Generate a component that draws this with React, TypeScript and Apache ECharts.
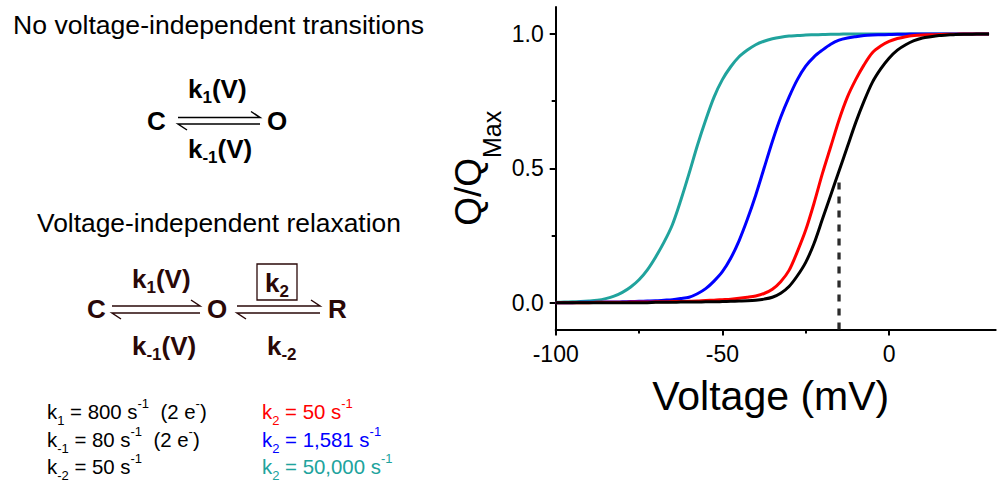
import React, { useEffect, useRef } from "react";
import * as echarts from "echarts";

const F = "'Liberation Sans', Arial, Helvetica, sans-serif";

// Voltage (mV) sample points
const voltage = [
  -100, -97.5, -95, -92.5, -90, -87.5, -85, -82.5, -80, -77.5, -75, -72.5, -70, -67.5, -65, -62.5, -60, -57.5,
  -55, -52.5, -50, -47.5, -45, -42.5, -40, -37.5, -35, -32.5, -30, -27.5, -25, -22.5, -20, -17.5, -15, -12.5,
  -10, -7.5, -5, -2.5, 0, 2.5, 5, 7.5, 10, 12.5, 15, 17.5, 20, 22.5, 25, 27.5, 30,
];
// Q/Qmax, k2 = 50,000 s-1 (teal)
const qTeal = [
  0.001, 0.002, 0.003, 0.004, 0.006, 0.009, 0.015, 0.024, 0.038, 0.058, 0.085, 0.122, 0.17, 0.225, 0.29, 0.38, 0.48, 0.585,
  0.68, 0.765, 0.83, 0.878, 0.915, 0.94, 0.96, 0.973, 0.982, 0.988, 0.992, 0.994, 0.996, 0.997, 0.998, 0.999, 0.999, 1,
  1, 1, 1, 1, 1, 1, 1, 1, 1, 1, 1, 1, 1, 1, 1, 1, 1,
];
// k2 = 1,581 s-1 (blue)
const qBlue = [
  0, 0, 0, 0.001, 0.001, 0.001, 0.002, 0.002, 0.003, 0.004, 0.005, 0.006, 0.007, 0.009, 0.011, 0.015, 0.02, 0.033,
  0.052, 0.08, 0.115, 0.165, 0.23, 0.31, 0.4, 0.5, 0.6, 0.69, 0.765, 0.83, 0.88, 0.915, 0.94, 0.962, 0.977, 0.985,
  0.99, 0.994, 0.996, 0.997, 0.998, 0.999, 0.999, 1, 1, 1, 1, 1, 1, 1, 1, 1, 1,
];
// k2 = 50 s-1 (red)
const qRed = [
  0, 0, 0, 0, 0, 0.001, 0.001, 0.001, 0.001, 0.002, 0.002, 0.002, 0.003, 0.003, 0.004, 0.004, 0.005, 0.006,
  0.008, 0.009, 0.011, 0.013, 0.016, 0.02, 0.025, 0.034, 0.05, 0.078, 0.12, 0.19, 0.27, 0.37, 0.48, 0.58, 0.68, 0.765,
  0.83, 0.885, 0.93, 0.955, 0.972, 0.983, 0.99, 0.994, 0.996, 0.997, 0.998, 0.999, 0.999, 1, 1, 1, 1,
];
// no voltage-independent transitions (black)
const qBlack = [
  0, 0, 0, 0, 0, 0, 0, 0, 0, 0, 0, 0, 0.001, 0.001, 0.001, 0.002, 0.002, 0.002,
  0.003, 0.003, 0.004, 0.005, 0.006, 0.007, 0.009, 0.013, 0.02, 0.035, 0.06, 0.1, 0.15, 0.22, 0.31, 0.4, 0.49, 0.58,
  0.67, 0.75, 0.82, 0.87, 0.91, 0.94, 0.96, 0.975, 0.985, 0.99, 0.994, 0.996, 0.998, 0.999, 0.999, 1, 1,
];

const dashedV = [-15, -15];
const dashedQ = [-0.1, 0.46];

const xTicks = [-100, -50, 0];
const xMinorTicks = [-75, -25];
const yTicks = [0, 0.5, 1];
const yMinorTicks = [0.25, 0.75];

const TEAL = "#20a39d";
const BLUE = "#0000ff";
const RED = "#ff0000";
const BLACK = "#000000";
const BROWN = "#2a0808";

function rt(
  x: number,
  baseline: number,
  text: string,
  fs: number,
  L: number,
  opts: { bold?: boolean; color?: string; sub?: number } = {}
) {
  const s = opts.sub ?? Math.round(fs * 0.65);
  const color = opts.color ?? "#000";
  const weight = opts.bold ? "bold" : "normal";
  const top = baseline - L / 2 - 0.35 * fs;
  return {
    type: "text",
    x,
    y: top,
    silent: true,
    style: {
      text,
      align: "left",
      verticalAlign: "top",
      rich: {
        m: { fontSize: fs, lineHeight: L, fontFamily: F, fontWeight: weight, fill: color, color, verticalAlign: "middle" },
        sb: { fontSize: s, lineHeight: s + 1, fontFamily: F, fontWeight: weight, fill: color, color, verticalAlign: "bottom" },
        sp: { fontSize: s, lineHeight: s + 1, fontFamily: F, fontWeight: weight, fill: color, color, verticalAlign: "top" },
      },
    },
  };
}

function harpoon(x1: number, x2: number, yTop: number, yBot: number, color: string) {
  return [
    {
      type: "polyline",
      silent: true,
      shape: { points: [[x1, yTop], [x2, yTop], [x2 - 9, yTop - 6]] },
      style: { stroke: color, lineWidth: 1.5, fill: null },
    },
    {
      type: "polyline",
      silent: true,
      shape: { points: [[x1 + 9, yBot + 6], [x1, yBot], [x2, yBot]] },
      style: { stroke: color, lineWidth: 1.5, fill: null },
    },
  ];
}

export default function App() {
  const ref = useRef<HTMLDivElement>(null);
  useEffect(() => {
    if (!ref.current) return;
    const chart = echarts.init(ref.current, null, { renderer: "svg" });
    const mk = (ys: number[]) => voltage.map((v, i) => [v, ys[i]]);
    const curve = (name: string, ys: number[], color: string) => ({
      name,
      type: "line",
      data: mk(ys),
      showSymbol: false,
      symbol: "none",
      smooth: 0.3,
      lineStyle: { color, width: 3 },
      itemStyle: { color },
      xAxisIndex: 0,
      yAxisIndex: 0,
    });

    const graphics: any[] = [
      rt(13, 34, "{m|No voltage-independent transitions}", 26.6, 30),
      rt(188, 98, "{m|k}{sb|1}{m|(V)}", 26, 34, { bold: true, sub: 17 }),
      rt(147, 130, "{m|C}", 26, 34, { bold: true }),
      rt(267, 130, "{m|O}", 26, 34, { bold: true }),
      rt(188, 158, "{m|k}{sb|-1}{m|(V)}", 26, 34, { bold: true, sub: 17 }),
      ...harpoon(178, 260, 117.5, 124, "#000"),

      rt(37, 232, "{m|Voltage-independent relaxation}", 26.4, 30),
      rt(132, 288, "{m|k}{sb|1}{m|(V)}", 26, 34, { bold: true, sub: 17, color: BROWN }),
      {
        type: "rect",
        silent: true,
        shape: { x: 257, y: 264, width: 40, height: 36 },
        style: { stroke: BROWN, lineWidth: 1.3, fill: null },
      },
      rt(265, 292, "{m|k}{sb|2}", 26, 34, { bold: true, sub: 17, color: BROWN }),
      rt(87, 318, "{m|C}", 26, 34, { bold: true, color: BROWN }),
      rt(207, 318, "{m|O}", 26, 34, { bold: true, color: BROWN }),
      rt(328, 318, "{m|R}", 26, 34, { bold: true, color: BROWN }),
      rt(132, 355, "{m|k}{sb|-1}{m|(V)}", 26, 34, { bold: true, sub: 17, color: BROWN }),
      rt(267, 355, "{m|k}{sb|-2}", 26, 34, { bold: true, sub: 17, color: BROWN }),
      ...harpoon(112, 200, 306, 313, BROWN),
      ...harpoon(237, 320, 306, 313, BROWN),

      rt(47, 419, "{m|k}{sb|1}{m| = 800 s}{sp|-1}{m|  (2 e}{sp|-}{m|)}", 20.4, 30),
      rt(47, 447, "{m|k}{sb|-1}{m| = 80 s}{sp|-1}{m|  (2 e}{sp|-}{m|)}", 20.4, 30),
      rt(47, 474, "{m|k}{sb|-2}{m| = 50 s}{sp|-1}", 20.4, 30),
      rt(262, 419, "{m|k}{sb|2}{m| = 50 s}{sp|-1}", 20.4, 30, { color: RED }),
      rt(262, 447, "{m|k}{sb|2}{m| = 1,581 s}{sp|-1}", 20.4, 30, { color: BLUE }),
      rt(262, 474, "{m|k}{sb|2}{m| = 50,000 s}{sp|-1}", 20.4, 30, { color: TEAL }),
    ];

    const axisLineStyle = { color: "#000", width: 2 };
    chart.setOption({
      animation: false,
      grid: { left: 555.7, right: 3.3, top: 7.1, bottom: 155.5 },
      xAxis: [
        {
          type: "value",
          min: -100,
          max: 32,
          position: "bottom",
          axisLine: { show: true, onZero: false, lineStyle: axisLineStyle },
          axisTick: { show: true, customValues: xTicks, length: 6, lineStyle: axisLineStyle },
          axisLabel: {
            customValues: xTicks,
            fontSize: 23,
            lineHeight: 23,
            margin: 13,
            color: "#000",
            fontFamily: F,
            formatter: (v: number) => String(v),
          },
          splitLine: { show: false },
          name: "Voltage (mV)",
          nameLocation: "middle",
          nameGap: 46,
          nameTextStyle: { fontSize: 41, lineHeight: 41, fontFamily: F, color: "#000", padding: [0, 10, 0, 0] },
        },
        {
          type: "value",
          min: -100,
          max: 32,
          position: "bottom",
          axisLine: { show: false, onZero: false },
          axisTick: { show: true, customValues: xMinorTicks, length: 4, lineStyle: axisLineStyle },
          axisLabel: { show: false },
          splitLine: { show: false },
        },
      ],
      yAxis: [
        {
          type: "value",
          min: -0.1,
          max: 1.1,
          position: "left",
          axisLine: { show: true, onZero: false, lineStyle: axisLineStyle },
          axisTick: { show: true, customValues: yTicks, length: 6, lineStyle: axisLineStyle },
          axisLabel: {
            customValues: yTicks,
            fontSize: 23,
            margin: 12,
            color: "#000",
            fontFamily: F,
            formatter: (v: number) => v.toFixed(1),
          },
          splitLine: { show: false },
          name: "{a|Q/Q}{b|Max}",
          nameLocation: "middle",
          nameRotate: 90,
          nameGap: 51,
          nameTextStyle: {
            rich: {
              a: { fontSize: 37, lineHeight: 72, fontFamily: F, color: "#000" },
              b: { fontSize: 25, lineHeight: 26, fontFamily: F, color: "#000", verticalAlign: "bottom" },
            },
          },
        },
        {
          type: "value",
          min: -0.1,
          max: 1.1,
          position: "left",
          axisLine: { show: false, onZero: false },
          axisTick: { show: true, customValues: yMinorTicks, length: 4, lineStyle: axisLineStyle },
          axisLabel: { show: false },
          splitLine: { show: false },
        },
      ],
      series: [
        {
          name: "threshold",
          type: "line",
          data: dashedV.map((v, i) => [v, dashedQ[i]]),
          showSymbol: false,
          symbol: "none",
          lineStyle: { color: "#2b2b2b", width: 3.3, type: [7, 7] },
          xAxisIndex: 0,
          yAxisIndex: 0,
        },
        curve("k2 = 50,000", qTeal, TEAL),
        curve("k2 = 1,581", qBlue, BLUE),
        curve("k2 = 50", qRed, RED),
        curve("C-O", qBlack, BLACK),
      ],
      graphic: graphics,
    });
    return () => chart.dispose();
  }, []);
  return (
    <div
      ref={ref}
      style={{ position: "absolute", left: 0, top: 0, width: 999, height: 485, background: "#fff" }}
    />
  );
}
